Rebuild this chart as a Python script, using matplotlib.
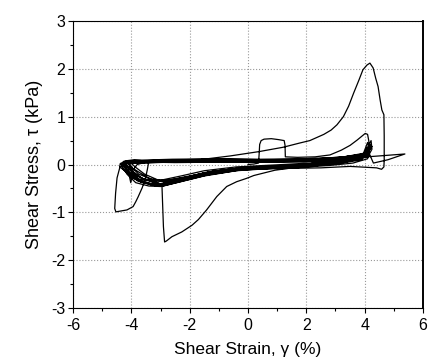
import matplotlib
matplotlib.use("Agg")
import matplotlib.pyplot as plt
import numpy as np
from matplotlib.ticker import MultipleLocator

plt.rcParams["font.family"] = ["Liberation Sans", "DejaVu Sans"]
plt.rcParams["axes.unicode_minus"] = False

# first cycles: small bump, second peak, big negative loop, leftmost loop
first_pts = [
    (0.0, 0.0), (0.2, 0.01), (0.36, 0.03), (0.38, 0.2), (0.4, 0.42), (0.45, 0.5),
    (0.55, 0.53), (0.8, 0.54), (1.05, 0.52), (1.24, 0.5), (1.27, 0.4), (1.28, 0.16),
    (1.7, 0.15), (2.3, 0.16), (2.81, 0.2), (3.2, 0.3), (3.5, 0.4), (3.74, 0.51),
    (3.92, 0.6), (4.02, 0.65), (4.1, 0.63), (4.14, 0.5), (4.17, 0.3), (4.1, 0.12),
    (3.6, 0.03), (2.8, -0.02), (2.0, -0.05), (1.4, -0.08), (0.92, -0.12), (0.52, -0.18),
    (0.2, -0.23), (-0.05, -0.29), (-0.39, -0.36), (-0.73, -0.46), (-1.07, -0.67),
    (-1.42, -0.95), (-1.7, -1.15), (-1.92, -1.27), (-2.27, -1.41), (-2.61, -1.51),
    (-2.8, -1.6), (-2.86, -1.62), (-2.9, -1.3), (-2.93, -0.8), (-2.95, -0.45),
    (-3.1, -0.38), (-3.5, -0.25), (-3.9, -0.1), (-4.2, -0.02), (-4.39, -0.05),
    (-4.49, -0.28), (-4.54, -0.6), (-4.57, -0.92), (-4.53, -0.99), (-4.35, -0.97),
    (-4.15, -0.95), (-3.94, -0.88), (-3.85, -0.78), (-3.77, -0.68), (-3.63, -0.49),
    (-3.52, -0.3), (-3.45, -0.1), (-3.4, 0.07),
]

# big excursion to the 2.1 kPa peak and back along the bottom
peak_pts = [
    (-2.5, 0.08), (-1.65, 0.1), (-0.6, 0.18), (0.38, 0.27), (1.2, 0.36), (1.78, 0.45),
    (2.12, 0.5), (2.6, 0.63), (2.85, 0.72), (3.05, 0.83), (3.27, 1.0), (3.45, 1.22),
    (3.62, 1.49), (3.8, 1.76), (3.94, 1.98), (4.08, 2.08), (4.18, 2.12), (4.29, 2.02),
    (4.38, 1.8), (4.46, 1.63), (4.53, 1.35), (4.59, 1.14), (4.66, 1.04), (4.67, 0.6),
    (4.67, 0.1), (4.66, -0.05), (4.58, -0.1), (4.41, -0.07), (3.5, -0.04), (2.5, -0.07),
    (1.5, -0.08), (0.0, -0.1), (-1.5, -0.18), (-2.5, -0.3), (-3.0, -0.35), (-3.6, -0.3),
    (-4.0, -0.15), (-4.25, 0.02),
]

# later, smaller cycles (the dense band)
band_cycles = [
    [(-4.32, 0.0), (-4.3, -0.08), (-4.1, -0.22), (-3.7, -0.36), (-3.2, -0.44), (-2.9, -0.45),
     (-2.2, -0.34), (-1.4, -0.22), (-0.3, -0.12), (1.0, -0.07), (2.2, -0.03), (3.3, 0.05),
     (3.9, 0.13), (4.18, 0.34), (4.05, 0.2), (3.2, 0.13), (2.0, 0.09), (0.5, 0.08),
     (-1.0, 0.09), (-2.5, 0.08), (-3.6, 0.07), (-4.0, 0.08), (-4.2, 0.05)],
    [(-4.2, 0.03), (-4.0, -0.12), (-3.6, -0.3), (-3.1, -0.4), (-2.85, -0.42), (-2.1, -0.3),
     (-1.3, -0.18), (-0.2, -0.09), (1.1, -0.04), (2.3, 0.0), (3.4, 0.07), (3.95, 0.16),
     (4.2, 0.42), (4.1, 0.22), (3.3, 0.14), (2.1, 0.1), (0.6, 0.09), (-0.9, 0.1),
     (-2.4, 0.09), (-3.5, 0.07), (-3.9, 0.1), (-4.15, 0.08), (-4.38, 0.02)],
    [(-4.4, -0.05), (-4.25, -0.12), (-3.95, -0.2), (-3.7, -0.27), (-3.3, -0.36), (-3.0, -0.4),
     (-2.3, -0.3), (-1.5, -0.17), (-0.4, -0.08), (0.9, -0.03), (2.1, 0.01), (2.81, 0.12),
     (4.3, 0.17), (5.38, 0.22), (4.8, 0.1), (4.3, 0.03), (4.12, 0.28), (4.0, 0.17),
     (3.1, 0.11), (1.9, 0.07), (0.4, 0.06), (-1.1, 0.06), (-2.6, 0.05), (-3.7, 0.04),
     (-4.3, 0.03)],
    [(-4.35, 0.0), (-4.15, -0.2), (-3.85, -0.38), (-3.4, -0.45), (-3.0, -0.46), (-2.3, -0.36),
     (-1.5, -0.24), (-0.4, -0.13), (0.9, -0.08), (2.1, -0.04), (3.2, 0.03), (3.9, 0.1),
     (4.22, 0.5), (4.25, 0.32), (4.1, 0.15), (3.2, 0.1), (2.0, 0.06), (0.5, 0.05),
     (-1.0, 0.05), (-2.5, 0.04), (-3.5, 0.05), (-3.8, 0.0), (-3.95, -0.12)],
    [(-3.9, -0.22), (-3.75, -0.3), (-3.5, -0.33), (-3.0, -0.34), (-2.7, -0.35), (-2.0, -0.25),
     (-1.2, -0.14), (-0.1, -0.06), (1.2, -0.02), (2.4, 0.02), (3.4, 0.08), (4.0, 0.18),
     (4.25, 0.38), (4.1, 0.25), (3.3, 0.16), (2.1, 0.11), (0.6, 0.1), (-0.9, 0.11),
     (-2.4, 0.1), (-3.5, 0.08), (-4.05, 0.06), (-4.3, 0.04)],
    [(-4.3, 0.03), (-4.1, -0.14), (-3.75, -0.32), (-3.25, -0.41), (-2.95, -0.42), (-2.25, -0.31),
     (-1.45, -0.19), (-0.35, -0.1), (0.95, -0.05), (2.15, -0.01), (3.25, 0.05), (3.9, 0.14),
     (4.1, 0.46), (4.16, 0.3), (4.0, 0.19), (3.15, 0.12), (1.95, 0.08), (0.45, 0.07),
     (-1.05, 0.08), (-2.55, 0.07), (-3.65, 0.05), (-4.05, 0.03), (-4.1, -0.15),
     (-4.02, -0.38), (-3.96, -0.2)],
    [(-3.98, -0.05), (-4.1, 0.02), (-4.0, -0.05), (-3.75, -0.2), (-3.35, -0.3), (-3.0, -0.33),
     (-2.3, -0.24), (-1.5, -0.13), (-0.4, -0.05), (0.9, -0.01), (2.1, 0.03), (3.2, 0.08),
     (3.85, 0.15), (4.15, 0.26), (4.0, 0.21), (3.1, 0.15), (1.9, 0.12), (0.4, 0.11),
     (-1.1, 0.12), (-2.6, 0.11), (-3.7, 0.09), (-4.25, 0.07)],
    [(-4.3, 0.04), (-4.2, -0.1), (-4.0, -0.27), (-3.6, -0.38), (-3.1, -0.42), (-2.4, -0.33),
     (-1.6, -0.21), (-0.5, -0.11), (0.8, -0.06), (2.0, -0.02), (3.1, 0.04), (3.8, 0.11),
     (4.2, 0.4), (4.05, 0.16), (3.2, 0.1), (2.0, 0.07), (0.5, 0.06), (-1.0, 0.06),
     (-2.5, 0.05), (-3.6, 0.04), (-4.1, 0.02)],
    [(-4.05, 0.05), (-3.85, -0.06), (-3.55, -0.2), (-3.1, -0.32), (-2.8, -0.34), (-2.1, -0.26),
     (-1.3, -0.15), (-0.2, -0.07), (1.1, -0.03), (2.3, 0.01), (3.35, 0.07), (3.95, 0.15),
     (4.18, 0.33), (4.05, 0.23), (3.2, 0.15), (2.0, 0.1), (0.5, 0.09), (-1.0, 0.1),
     (-2.5, 0.09), (-3.6, 0.07), (-4.15, 0.05)],
    [(-4.25, 0.02), (-4.1, -0.16), (-3.8, -0.34), (-3.3, -0.43), (-2.95, -0.44), (-2.25, -0.33),
     (-1.45, -0.21), (-0.35, -0.11), (0.95, -0.06), (2.15, -0.02), (3.25, 0.04), (3.9, 0.12),
     (4.08, 0.36), (4.14, 0.2), (3.95, 0.14), (3.1, 0.1), (1.9, 0.06), (0.4, 0.05),
     (-1.1, 0.05), (-2.6, 0.05), (-3.7, 0.03), (-4.2, 0.02)],
]

path = first_pts + peak_pts
for cyc in band_cycles:
    path = path + cyc
path = np.array(path)

fig = plt.figure(figsize=(4.28, 3.58), dpi=100)
ax = fig.add_axes([0.1706, 0.1397, 0.8177, 0.8016])

ax.plot(path[:, 0], path[:, 1], color="black", linewidth=0.9)

ax.set_xlim(-6, 6)
ax.set_ylim(-3, 3)
ax.xaxis.set_major_locator(MultipleLocator(2))
ax.xaxis.set_minor_locator(MultipleLocator(1))
ax.yaxis.set_major_locator(MultipleLocator(1))
ax.yaxis.set_minor_locator(MultipleLocator(0.5))
ax.tick_params(which="major", direction="out", length=3.5, width=0.8, labelsize=11.5)
ax.tick_params(axis="x", which="major", pad=4)
ax.tick_params(axis="y", which="major", pad=2)
ax.tick_params(which="minor", direction="out", length=2, width=0.8)
ax.grid(True, which="major", color="#999999", linestyle=":", linewidth=0.8)

for sp in ax.spines.values():
    sp.set_linewidth(0.8)
ax.spines["right"].set_linewidth(1.4)

ax.set_xlabel("Shear Strain, γ (%)", fontsize=12.5, labelpad=6)
ax.set_ylabel("Shear Stress, τ (kPa)", fontsize=13, labelpad=6)

fig.savefig("out.png", dpi=100)
